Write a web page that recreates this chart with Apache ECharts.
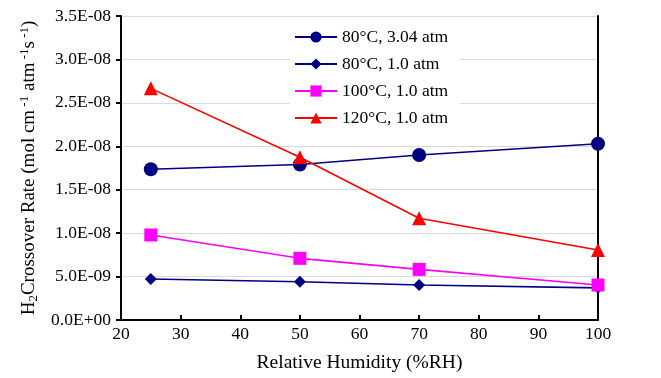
<!DOCTYPE html>
<html>
<head>
<meta charset="utf-8">
<script src="https://cdn.jsdelivr.net/npm/echarts@6/dist/echarts.min.js"></script>
<style>
  html, body { margin: 0; padding: 0; background: #fff; }
  #chart { width: 661px; height: 378px; }
</style>
</head>
<body>
<div id="chart"></div>
<script>
// relative humidity (%RH)
const humidity = [25, 50, 70, 100];

// H2 crossover rate, mol cm-1 atm-1 s-1
const rate80High = [1.735e-8, 1.79e-8, 1.90e-8, 2.03e-8];
const rate80 = [0.472e-8, 0.441e-8, 0.403e-8, 0.37e-8];
const rate100 = [0.979e-8, 0.71e-8, 0.583e-8, 0.403e-8];
const rate120 = [2.667e-8, 1.873e-8, 1.171e-8, 0.806e-8];

const seriesNames = ['80°C, 3.04 atm', '80°C, 1.0 atm', '100°C, 1.0 atm', '120°C, 1.0 atm'];

const FONT = '"Liberation Serif", "Times New Roman", serif';

function sci(v) {
  if (v === 0) return '0.0E+00';
  const [m, e] = v.toExponential(1).split('e');
  const n = parseInt(e, 10);
  return m + 'E' + (n < 0 ? '-' : '+') + String(Math.abs(n)).padStart(2, '0');
}

const chart = echarts.init(document.getElementById('chart'));

function line(name, values, color, symbol, size) {
  return {
    name,
    type: 'line',
    data: humidity.map((h, i) => [h, values[i]]),
    symbol,
    symbolSize: size,
    lineStyle: { color, width: 1.6 },
    itemStyle: { color },
    z: 3
  };
}

chart.setOption({
  animation: false,
  grid: { left: 121, right: 63, top: 16, bottom: 58 },
  legend: {
    left: 290,
    top: 24,
    orient: 'vertical',
    itemWidth: 42,
    itemHeight: 14,
    itemGap: 9,
    padding: [4, 12, 4, 4],
    backgroundColor: '#fff',
    data: seriesNames,
    textStyle: { fontFamily: FONT, fontSize: 17.5, color: '#000' }
  },
  xAxis: {
    type: 'value',
    min: 20,
    max: 100,
    interval: 10,
    name: 'Relative Humidity (%RH)',
    nameLocation: 'middle',
    nameGap: 33,
    nameTextStyle: { fontFamily: FONT, fontSize: 19.5, color: '#000' },
    axisLine: { show: true, lineStyle: { color: '#000', width: 2 } },
    axisTick: { show: true, inside: true, length: 5, lineStyle: { color: '#000', width: 2 } },
    axisLabel: { fontFamily: FONT, fontSize: 17.5, color: '#000', margin: 5 },
    splitLine: { show: false }
  },
  yAxis: [{
    type: 'value',
    min: 0,
    max: 3.5e-8,
    interval: 5e-9,
    name: '{n|H}{sub|2}{n|Crossover Rate (mol cm}{sup| -1}{n| atm}{sup| -1}{n|s}{sup| -1}{n|)}',
    nameLocation: 'middle',
    nameGap: 78,
    nameRotate: 90,
    nameTextStyle: {
      fontFamily: FONT,
      color: '#000',
      rich: {
        n: { fontFamily: FONT, fontSize: 19, color: '#000', lineHeight: 22 },
        sub: { fontFamily: FONT, fontSize: 13, color: '#000', verticalAlign: 'bottom', lineHeight: 22 },
        sup: { fontFamily: FONT, fontSize: 13, color: '#000', verticalAlign: 'top', lineHeight: 22 }
      }
    },
    axisLine: { show: true, lineStyle: { color: '#000', width: 2 } },
    axisTick: { show: true, length: 5, lineStyle: { color: '#000', width: 2 } },
    axisLabel: { fontFamily: FONT, fontSize: 17.5, color: '#000', margin: 10, formatter: sci },
    splitLine: { show: true, lineStyle: { color: '#d9d9d9', width: 1 } }
  }, {
    type: 'value',
    position: 'right',
    min: 0,
    max: 3.5e-8,
    interval: 5e-9,
    axisLine: { show: true, lineStyle: { color: '#000', width: 2 } },
    axisTick: { show: false },
    axisLabel: { show: false },
    splitLine: { show: false }
  }],
  series: [
    line(seriesNames[0], rate80High, '#000080', 'circle', 14),
    line(seriesNames[1], rate80, '#000080', 'diamond', 12),
    line(seriesNames[2], rate100, '#ff00ff', 'rect', 13),
    line(seriesNames[3], rate120, '#ff0000', 'triangle', 14)
  ]
});
</script>
</body>
</html>
